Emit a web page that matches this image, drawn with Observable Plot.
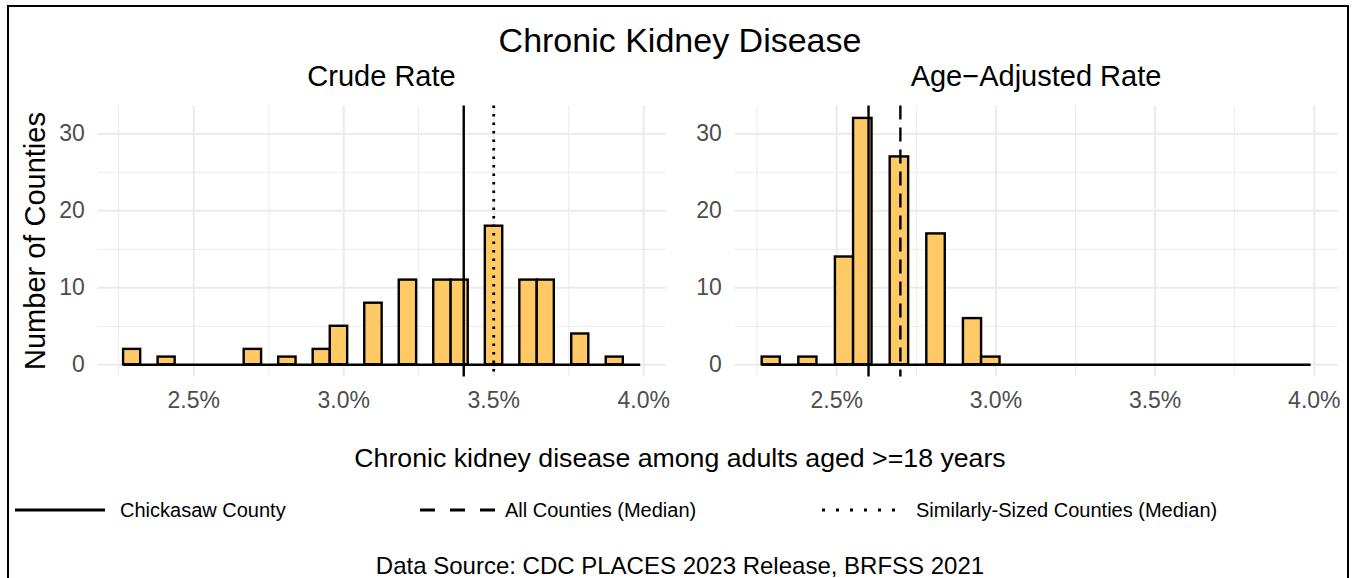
<!DOCTYPE html>
<html><head><meta charset="utf-8">
<script src="https://cdn.jsdelivr.net/npm/d3@7"></script>
<script src="https://cdn.jsdelivr.net/npm/@observablehq/plot@0.6"></script>
<style>
html,body{margin:0;padding:0;background:#fff;overflow:hidden;}
#root{position:relative;width:1354px;height:578px;font-family:"Liberation Sans",Arial,sans-serif;color:#000;overflow:hidden;background:#fff;}
.abs{position:absolute;white-space:nowrap;line-height:1;}
.c{transform:translate(-50%,-50%);}
.l{transform:translate(0,-50%);}
#frame{position:absolute;left:7px;top:5px;width:1342px;height:640px;border:2px solid #000;box-sizing:border-box;}
</style></head><body><div id="root"><div id="frame"></div></div>
<script>
// Histogram bin edges (shared by both panels, % of adults)
const binEdges = [2.266, 2.323, 2.381, 2.438, 2.496, 2.553, 2.611, 2.668, 2.726, 2.783,
  2.841, 2.898, 2.955, 3.013, 3.070, 3.128, 3.185, 3.243, 3.300, 3.358,
  3.415, 3.472, 3.530, 3.587, 3.645, 3.702, 3.760, 3.817, 3.875, 3.932, 3.990];
// Number of counties per bin
const crudeCounts    = [2,0,1,0,0,0,0,2,0,1, 0,2,5,0,8,0,11,0,11,11, 0,18,0,11,11,0,4,0,1,0];
const adjustedCounts = [1,0,1,0,14,32,0,27,0,17, 0,6,1,0,0,0,0,0,0,0, 0,0,0,0,0,0,0,0,0,0];
// Reference lines
const crudeChickasaw = 3.4, crudeSimilarMedian = 3.5;
const adjChickasaw = 2.6, adjAllMedian = 2.7;
// Ticks
const xMajorTicks = [2.5, 3.0, 3.5, 4.0];
const xMinorTicks = [2.25, 2.75, 3.25, 3.75];
const yMajorTicks = [0, 10, 20, 30];
const yMinorTicks = [5, 15, 25];

const FONT = '"Liberation Sans", Arial, sans-serif';
const GRID = "#EBEBEB";
const FILL = "#FFC966";

function bins(counts) {
  return counts.map((c, i) => ({x1: binEdges[i], x2: binEdges[i + 1], y1: 0, y2: c})).filter(d => d.y2 > 0);
}

function panel({counts, lines, width, height, marginLeft, marginRight, marginTop, marginBottom}) {
  return Plot.plot({
    width, height, marginLeft, marginRight, marginTop, marginBottom,
    style: {fontFamily: FONT, background: "transparent", overflow: "visible"},
    x: {domain: [2.18, 4.075]},
    y: {domain: [-1.6, 33.6]},
    marks: [
      Plot.gridX(xMinorTicks, {stroke: GRID, strokeOpacity: 1, strokeWidth: 1}),
      Plot.gridX(xMajorTicks, {stroke: GRID, strokeOpacity: 1, strokeWidth: 2}),
      Plot.gridY(yMinorTicks, {stroke: GRID, strokeOpacity: 1, strokeWidth: 1}),
      Plot.gridY(yMajorTicks, {stroke: GRID, strokeOpacity: 1, strokeWidth: 2}),
      Plot.rect(bins(counts), {x1: "x1", x2: "x2", y1: "y1", y2: "y2", fill: FILL, stroke: "#000", strokeWidth: 2.4}),
      Plot.ruleY([0], {x1: binEdges[0], x2: binEdges[binEdges.length - 1], stroke: "#000", strokeWidth: 2.4}),
      ...lines.map(l => Plot.ruleX([l.x], {stroke: "#000", strokeWidth: l.w, strokeDasharray: l.dash})),
      Plot.axisX(xMajorTicks, {tickSize: 0, tickPadding: 15, fontSize: 23, fill: "#4D4D4D", tickFormat: d => d.toFixed(1) + "%", label: null}),
      Plot.axisY(yMajorTicks, {tickSize: 0, tickPadding: 13, fontSize: 23, fill: "#4D4D4D", label: null})
    ]
  });
}

const root = document.getElementById("root");
function place(el, left, top) {
  el.style.position = "absolute"; el.style.left = left + "px"; el.style.top = top + "px";
  root.appendChild(el);
}
function text(str, x, y, size, cls, color) {
  const d = document.createElement("div");
  d.className = "abs " + cls;
  d.textContent = str;
  d.style.left = x + "px"; d.style.top = y + "px"; d.style.fontSize = size + "px";
  if (color) d.style.color = color;
  root.appendChild(d);
  return d;
}

const left = panel({counts: crudeCounts,
  lines: [{x: crudeChickasaw, dash: null, w: 2.4}, {x: crudeSimilarMedian, dash: "2.5,6", w: 2.8}],
  width: 680, height: 330, marginLeft: 97.3, marginRight: 14.3, marginTop: 15.6, marginBottom: 43.4});
place(left, 0, 90);

const right = panel({counts: adjustedCounts,
  lines: [{x: adjChickasaw, dash: null, w: 2.4}, {x: adjAllMedian, dash: "14,8", w: 2.4}],
  width: 664, height: 330, marginLeft: 44.3, marginRight: 16.3, marginTop: 15.6, marginBottom: 43.4});
place(right, 690, 90);

text("Chronic Kidney Disease", 680, 40, 34, "c");
text("Crude Rate", 381.5, 76, 29, "c");
text("Age\u2212Adjusted Rate", 1036, 76, 29, "c");
const yt = text("Number of Counties", 35, 241, 29, "c");
yt.style.transform = "translate(-50%,-50%) rotate(-90deg)";
text("Chronic kidney disease among adults aged >=18 years", 680, 458, 26.7, "c");
text("Data Source: CDC PLACES 2023 Release, BRFSS 2021", 680, 566, 24, "c");

// Legend
function legendItem(x1, x2, dash, label, tx) {
  const ns = "http://www.w3.org/2000/svg";
  const s = document.createElementNS(ns, "svg");
  s.setAttribute("width", x2 - x1 + 4); s.setAttribute("height", 10);
  const ln = document.createElementNS(ns, "line");
  ln.setAttribute("x1", 2); ln.setAttribute("x2", x2 - x1 + 2);
  ln.setAttribute("y1", 5); ln.setAttribute("y2", 5);
  ln.setAttribute("stroke", "#000"); ln.setAttribute("stroke-width", 3);
  if (dash) ln.setAttribute("stroke-dasharray", dash);
  s.appendChild(ln);
  place(s, x1 - 2, 505);
  text(label, tx, 510, 20, "l");
}
legendItem(15, 105, null, "Chickasaw County", 120);
legendItem(420, 495, "15,15", "All Counties (Median)", 505);
legendItem(822, 903, "3,11", "Similarly-Sized Counties (Median)", 916);
</script></body></html>
